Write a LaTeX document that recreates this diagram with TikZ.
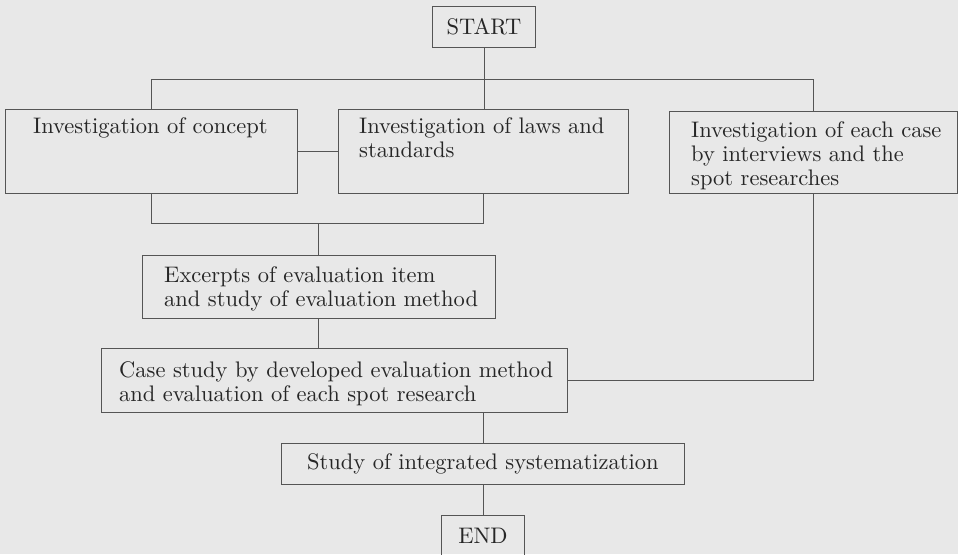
\documentclass[tikz,border=0pt]{standalone}
\usepackage{fontspec}
\setmainfont{lmroman10-regular.otf}
\usepackage{tikz}
\usetikzlibrary{positioning}
\definecolor{paper}{HTML}{E8E8E8}
\definecolor{ink}{HTML}{555555}
\tikzset{
  flowbox/.style={draw=ink, line width=0.9pt, rectangle, anchor=north west, inner sep=0pt,
    text=black!85, font=\fontsize{22.5}{24}\selectfont},
  boxtext/.style={anchor=north west, inner sep=0pt, align=left, text=black!85,
    font=\fontsize{22.5}{24}\selectfont},
  wire/.style={draw=ink, line width=0.9pt},
}
\begin{document}
\begin{tikzpicture}[x=1pt, y=-1pt]
  \fill[paper] (0,0) rectangle (958,554);
  \clip (0,0) rectangle (958,554);
  % boxes
  \node[flowbox, minimum width=103, minimum height=41] (start) at (432,6) {START};
  \node[flowbox, minimum width=292, minimum height=84] (concept) at (5,109) {};
  \node[flowbox, minimum width=290, minimum height=84] (laws) at (338,109) {};
  \node[flowbox, minimum width=288, minimum height=82] (cases) at (669,111) {};
  \node[flowbox, minimum width=353, minimum height=63] (excerpt) at (142,255) {};
  \node[flowbox, minimum width=466, minimum height=64] (casestudy) at (101,348) {};
  \node[flowbox, minimum width=403, minimum height=41] (integ) at (281,443) {Study of integrated systematization};
  \node[flowbox, minimum width=83, minimum height=41] (finish) at (441,515) {END};
  % texts
  \node[boxtext, below right=7.2pt and 28pt of concept.north west] (concepttxt) {\strut Investigation of concept};
  \node[boxtext, below right=7.2pt and 21pt of laws.north west] (lawstxt) {\strut Investigation of laws and\\standards};
  \node[boxtext, below right=9.2pt and 22pt of cases.north west] (casestxt) {\strut Investigation of each case\\by interviews and the\\spot researches};
  \node[boxtext, below right=10.2pt and 22pt of excerpt.north west] (excerpttxt) {\strut Excerpts of evaluation item\\and study of evaluation method};
  \node[boxtext, below right=12.2pt and 18pt of casestudy.north west] (casestudytxt) {\strut Case study by developed evaluation method\\and evaluation of each spot research};
  % connectors
  \coordinate (bustop) at (483,79);
  \coordinate (busbot) at (318,223);
  \draw[wire] (start.south) -- (start.south |- laws.north);
  \draw[wire] (concept.north) -- (concept.north |- bustop) -- (cases.north |- bustop) -- (cases.north);
  \draw[wire] (concept.east) -- (laws.west);
  \draw[wire] (concept.south) |- (laws.south |- busbot) -- (laws.south);
  \draw[wire] (busbot) -- (excerpt.north -| busbot);
  \draw[wire] (excerpt.south -| busbot) -- (casestudy.north -| busbot);
  \draw[wire] (cases.south) |- (casestudy.east);
  \draw[wire] (casestudy.south -| integ.north) -- (integ.north);
  \draw[wire] (integ.south) -- (finish.north);
\end{tikzpicture}
\end{document}
